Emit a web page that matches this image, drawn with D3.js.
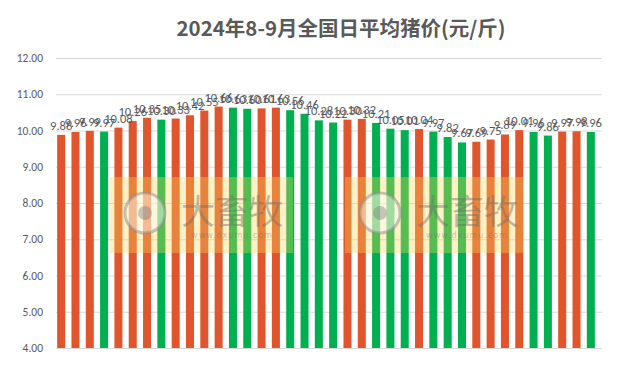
<!DOCTYPE html>
<html>
<head>
<meta charset="utf-8">
<script src="https://cdn.jsdelivr.net/npm/d3@7"></script>
<style>
  body { margin: 0; background: #fff; }
  svg { display: block; }
</style>
</head>
<body>
<div id="chart"></div>
<script>
"use strict";

const width = 631;
const height = 370;

// daily average price, Aug-Sep 2024 (yuan / jin)
const prices = [9.88, 9.96, 9.99, 9.97, 10.08, 10.26, 10.35, 10.30, 10.33, 10.42,
  10.55, 10.66, 10.63, 10.60, 10.61, 10.63, 10.56, 10.46, 10.28, 10.22,
  10.30, 10.32, 10.21, 10.05, 10.01, 10.04, 9.97, 9.82, 9.67, 9.69,
  9.75, 9.89, 10.01, 9.96, 9.86, 9.97, 9.98, 9.96];
// 1 = up (orange), 0 = down (green)
const trend = [1, 1, 1, 0, 1, 1, 1, 0, 1, 1,
  1, 1, 0, 0, 1, 1, 0, 0, 0, 0,
  1, 1, 0, 0, 0, 1, 0, 0, 0, 1,
  1, 1, 1, 0, 0, 1, 1, 0];
const yTicks = [4, 5, 6, 7, 8, 9, 10, 11, 12];

const upColor = "#e0552b";
const downColor = "#00b050";
const textColor = "#595959";

const svg = d3.select("#chart").append("svg")
  .attr("width", width)
  .attr("height", height);

// title
svg.append("text")
  .attr("x", 341)
  .attr("y", 36)
  .attr("text-anchor", "middle")
  .style("font-family", "'Noto Sans CJK SC', sans-serif")
  .style("font-size", "20.5px")
  .style("font-weight", "bold")
  .style("fill", textColor)
  .text("2024年8-9月全国日平均猪价(元/斤)");

const x = d3.scaleBand()
  .domain(d3.range(prices.length))
  .range([54, 598])
  .paddingInner(0.44)
  .paddingOuter(0.22);

const y = d3.scaleLinear()
  .domain([4, 12])
  .range([348, 58]);

// gridlines
svg.append("g")
  .selectAll("line")
  .data(yTicks)
  .enter()
  .append("line")
  .attr("x1", 56)
  .attr("x2", 602)
  .attr("y1", d => y(d) + 0.5)
  .attr("y2", d => y(d) + 0.5)
  .style("stroke", "#d9d9d9")
  .style("stroke-width", 1);

// y labels
svg.append("g")
  .selectAll("text")
  .data(yTicks)
  .enter()
  .append("text")
  .attr("x", 43)
  .attr("y", d => y(d) + 4)
  .attr("text-anchor", "end")
  .style("font-family", "Calibri, 'Liberation Sans', sans-serif")
  .style("font-size", "11.5px")
  .style("fill", textColor)
  .text(d => d.toFixed(2));

// bars
svg.append("g")
  .selectAll("rect")
  .data(prices)
  .enter()
  .append("rect")
  .attr("x", (d, i) => x(i))
  .attr("width", x.bandwidth())
  .attr("y", d => y(d))
  .attr("height", d => y(4) - y(d))
  .style("fill", (d, i) => trend[i] ? upColor : downColor);

// value labels
svg.append("g")
  .selectAll("text")
  .data(prices)
  .enter()
  .append("text")
  .attr("x", (d, i) => x(i) + x.bandwidth() / 2)
  .attr("y", d => y(d) - 5)
  .attr("text-anchor", "middle")
  .style("font-family", "Calibri, 'Liberation Sans', sans-serif")
  .style("font-size", "12.5px")
  .style("fill", textColor)
  .text(d => d.toFixed(2));

// watermark
const marks = [{ x: 110, w: 183 }, { x: 345, w: 178 }];
const wm = svg.append("g").selectAll("g")
  .data(marks)
  .enter()
  .append("g");
wm.append("rect")
  .attr("x", d => d.x)
  .attr("y", 177)
  .attr("width", d => d.w)
  .attr("height", 76)
  .style("fill", "rgba(250,215,90,0.35)");
wm.append("circle")
  .attr("cx", d => d.x + 35)
  .attr("cy", 213)
  .attr("r", 20)
  .style("fill", "rgba(255,255,255,0.45)")
  .style("stroke", "rgba(140,140,140,0.5)")
  .style("stroke-width", 3);
wm.append("circle")
  .attr("cx", d => d.x + 35)
  .attr("cy", 213)
  .attr("r", 7)
  .style("fill", "rgba(120,120,120,0.4)");
wm.append("text")
  .attr("x", d => d.x + 122)
  .attr("y", 224)
  .attr("text-anchor", "middle")
  .style("font-family", "'Noto Sans CJK SC', sans-serif")
  .style("font-size", "34px")
  .style("fill", "rgba(110,110,110,0.45)")
  .text("大畜牧");
wm.append("text")
  .attr("x", d => d.x + 122)
  .attr("y", 238)
  .attr("text-anchor", "middle")
  .style("font-family", "'DejaVu Sans', sans-serif")
  .style("font-size", "8px")
  .style("letter-spacing", "1px")
  .style("fill", "rgba(110,110,110,0.4)")
  .text("www.dxumu.com");
</script>
</body>
</html>
